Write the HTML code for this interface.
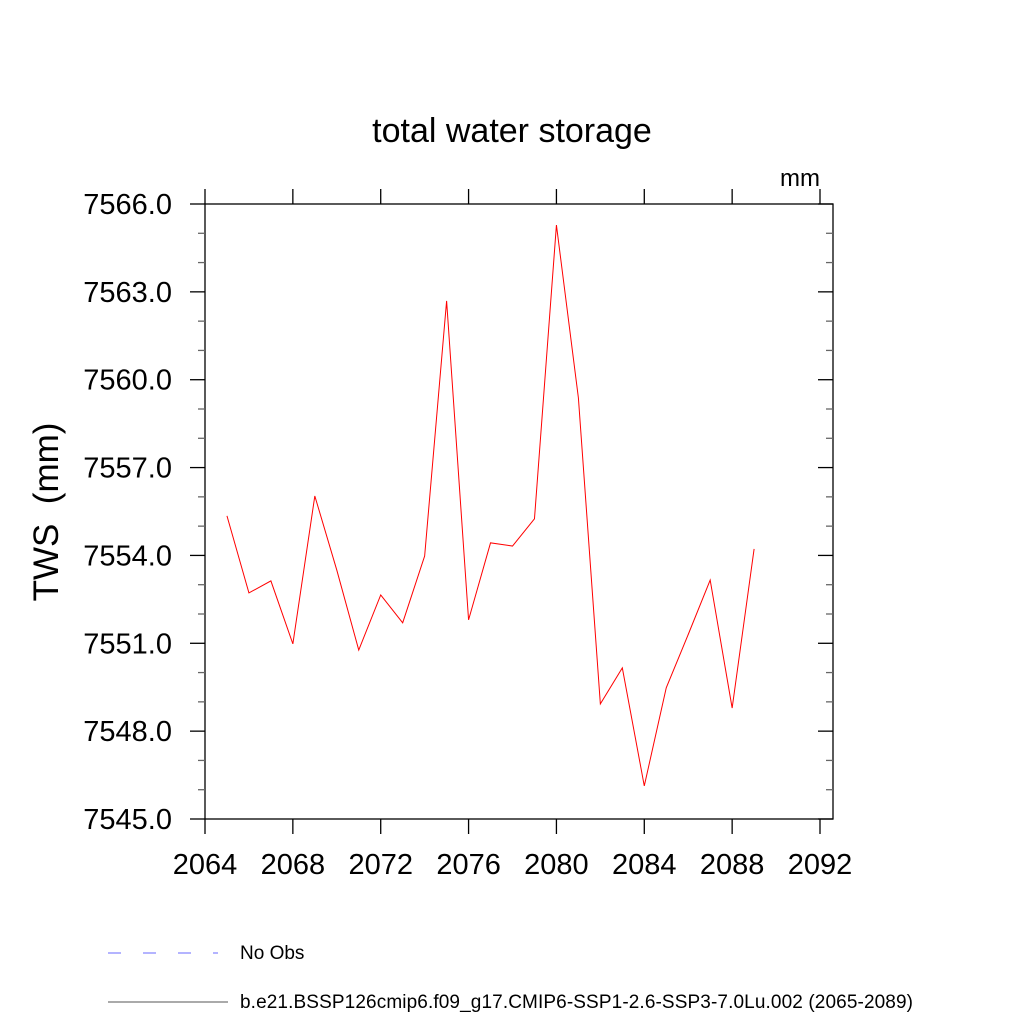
<!DOCTYPE html>
<html><head><meta charset="utf-8"><style>
body{margin:0;background:#fff;}
svg text{font-family:"Liberation Sans",sans-serif;}
</style></head><body>
<svg id="chart" width="1024" height="1024">
<text x="512" y="142" font-size="34" text-anchor="middle">total water storage</text>
<text x="820" y="186" font-size="24" text-anchor="end">mm</text>
<text transform="translate(58,512) rotate(-90)" font-size="35" text-anchor="middle" xml:space="preserve" style="white-space:pre">TWS  (mm)</text>
<g id="axes"></g>
<polyline id="series" fill="none" stroke="#ff0000" stroke-width="1"></polyline>
<line x1="108" y1="953" x2="218" y2="953" stroke="#6a6aff" stroke-dasharray="13,22" stroke-width="1"/>
<text x="240" y="959" font-size="19">No Obs</text>
<line x1="108" y1="1002" x2="228" y2="1002" stroke="#555" stroke-width="1"/>
<text x="240" y="1008" font-size="19" textLength="673">b.e21.BSSP126cmip6.f09_g17.CMIP6-SSP1-2.6-SSP3-7.0Lu.002 (2065-2089)</text>
</svg>
<script>
const years=[2065,2066,2067,2068,2069,2070,2071,2072,2073,2074,2075,2076,2077,2078,2079,2080,2081,2082,2083,2084,2085,2086,2087,2088,2089];
const tws=[7555.35,7552.72,7553.13,7550.98,7556.03,7553.5,7550.77,7552.65,7551.7,7553.98,7562.69,7551.8,7554.43,7554.32,7555.25,7565.28,7559.38,7548.93,7550.16,7546.13,7549.48,7551.3,7553.16,7548.79,7554.22];
const xTicks=[2064,2068,2072,2076,2080,2084,2088,2092];
const yTicks=[7545,7548,7551,7554,7557,7560,7563,7566];
const NS='http://www.w3.org/2000/svg';
const L=205,R=833,T=204,B=819;
const xs=v=>205+(v-2064)*(820-205)/28;
const ys=v=>819-(v-7545)*(819-204)/21;
const g=document.getElementById('axes');
function ln(x1,y1,x2,y2,name,c){const e=document.createElementNS(NS,'line');
e.setAttribute('x1',x1);e.setAttribute('y1',y1);e.setAttribute('x2',x2);e.setAttribute('y2',y2);
e.setAttribute('stroke',c||'#000');e.setAttribute('stroke-width','1.3');


g.appendChild(e);}
function tx(x,y,s,anchor,name){const e=document.createElementNS(NS,'text');
e.setAttribute('x',x);e.setAttribute('y',y);e.setAttribute('font-size','29');e.setAttribute('text-anchor',anchor);e.textContent=s;


g.appendChild(e);}
const fr=document.createElementNS(NS,'rect');
fr.setAttribute('x',L);fr.setAttribute('y',T);fr.setAttribute('width',R-L);fr.setAttribute('height',B-T);
fr.setAttribute('fill','none');fr.setAttribute('stroke','#000');fr.setAttribute('stroke-width','1.3');


g.appendChild(fr);
xTicks.forEach(v=>{const x=xs(v);ln(x,B,x,B+15,'x-tick');ln(x,T,x,T-15,'x-tick-top');tx(x,874,String(v),'middle','x-tick-label');});
yTicks.forEach(v=>{const y=ys(v);ln(L-15,y,L,y,'y-tick');ln(R-15,y,R,y,'y-tick-right');tx(172,y+10,v.toFixed(1),'end','y-tick-label');});
for(let v=7545;v<7566;v++){if((v-7545)%3){const y=ys(v);ln(L-7,y,L,y,'y-minor-tick','#666');ln(R-7,y,R,y,'y-minor-tick-right','#666');}}
document.getElementById('series').setAttribute('points',years.map((y,i)=>xs(y)+','+ys(tws[i])).join(' '));
</script>
</body></html>
